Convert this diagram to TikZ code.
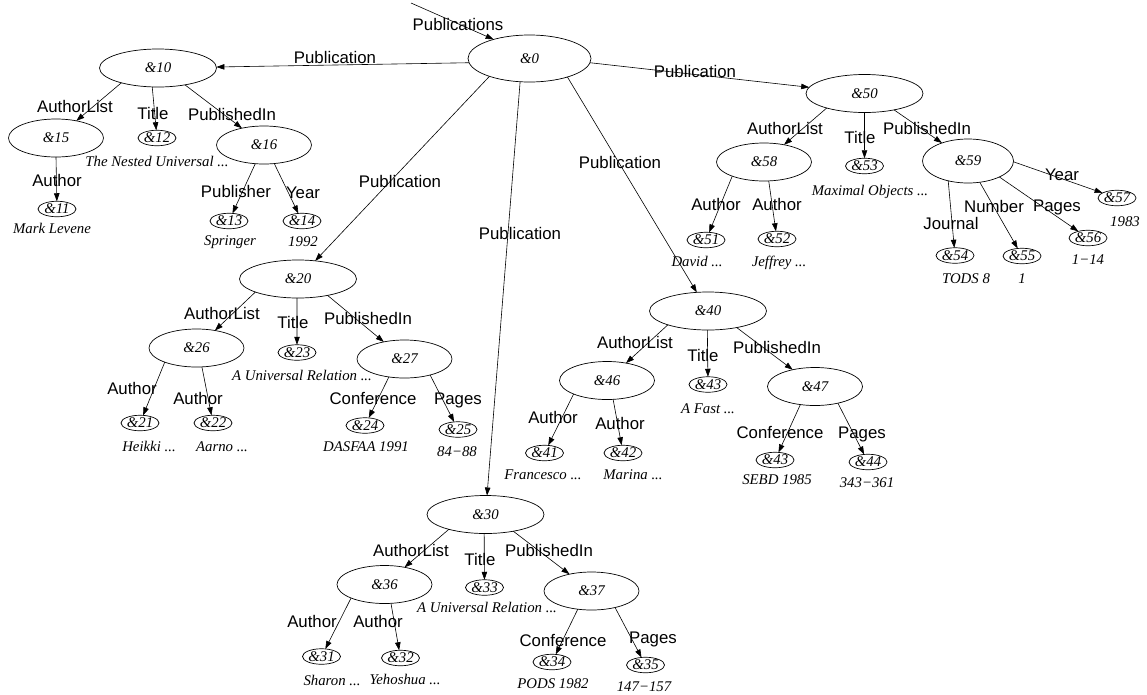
\documentclass[tikz,border=0pt]{standalone}
\usepackage{fontspec}
\setmainfont{Liberation Serif}
\newfontfamily\lsans{Liberation Sans}
\usetikzlibrary{shapes.geometric,arrows.meta}

\begin{document}
\begin{tikzpicture}[x=1pt,y=-1pt,
  obj/.style={ellipse,draw,line width=0.7pt,inner sep=0pt,outer sep=0pt,
    font=\itshape\fontsize{14.8}{16}\selectfont,text height=9.5pt,text depth=0pt},
  lvA/.style={obj,minimum width=117pt,minimum height=38pt},
  lvB/.style={obj,minimum width=95pt,minimum height=38pt},
  leaf/.style={obj,minimum width=38pt,minimum height=15.5pt},
  link/.style={line width=0.6pt,-{Triangle[length=8pt,width=5.5pt]}},
  elabel/.style={font=\lsans\fontsize{16.8}{18}\selectfont,inner sep=0pt,
    text height=12pt,text depth=0pt},
  capt/.style={font=\itshape\fontsize{14.8}{16}\selectfont,inner sep=0pt,
    text height=9.5pt,text depth=0pt}]
\useasboundingbox (0,0) rectangle (1147,694);

% ---------- objects ----------
\node[obj,minimum width=123pt,minimum height=47pt] (n0) at (529.5,58.5) {\&0};
\coordinate (pin) at (411,3);

% publication 10
\node[lvA]  (n10) at (158,68)   {\&10};
\node[lvB]  (n15) at (56,138)   {\&15};
\node[leaf] (n12) at (157,138)  {\&12};
\node[lvB]  (n16) at (264,145)  {\&16};
\node[leaf] (n11) at (57,209)   {\&11};
\node[leaf] (n13) at (229,221)  {\&13};
\node[leaf] (n14) at (302,221)  {\&14};

% publication 50
\node[lvA]  (n50) at (864.5,93.5) {\&50};
\node[lvB]  (n58) at (764,162)    {\&58};
\node[leaf] (n53) at (864.5,166)  {\&53};
\node[obj,minimum width=91pt,minimum height=44pt] (n59) at (968,161) {\&59};
\node[leaf] (n51) at (706,240)    {\&51};
\node[leaf] (n52) at (777,239)    {\&52};
\node[leaf] (n54) at (955,255.5)  {\&54};
\node[leaf] (n55) at (1022,256)   {\&55};
\node[leaf] (n56) at (1088,238)   {\&56};
\node[leaf] (n57) at (1117,198)   {\&57};

% publication 20
\node[lvA]  (n20) at (298,279)    {\&20};
\node[lvB]  (n26) at (196.5,348)  {\&26};
\node[leaf] (n23) at (297,352.5)  {\&23};
\node[lvB]  (n27) at (404.5,359)  {\&27};
\node[leaf] (n21) at (140,423)    {\&21};
\node[leaf] (n22) at (213,423)    {\&22};
\node[leaf] (n24) at (365,425.5)  {\&24};
\node[leaf] (n25) at (458,429.5)  {\&25};

% publication 40
\node[lvA]  (n40) at (708,311)    {\&40};
\node[lvB]  (n46) at (607,380.5)  {\&46};
\node[leaf] (n43) at (708,384.5)  {\&43};
\node[lvB]  (n47) at (815,386.5)  {\&47};
\node[leaf] (n41) at (544.5,453)  {\&41};
\node[leaf] (n42) at (623,453)    {\&42};
\node[leaf] (n43b) at (775,460)   {\&43};
\node[leaf] (n44) at (868,462)    {\&44};

% publication 30
\node[lvA]  (n30) at (485.5,514.5) {\&30};
\node[lvB]  (n36) at (384.5,584.5) {\&36};
\node[leaf] (n33) at (484.5,587.5) {\&33};
\node[lvB]  (n37) at (591.5,591)   {\&37};
\node[leaf] (n31) at (321.5,656.5) {\&31};
\node[leaf] (n32) at (400.5,658)   {\&32};
\node[leaf] (n34) at (552,662)     {\&34};
\node[leaf] (n35) at (645.5,665)   {\&35};

% ---------- values ----------
\node[capt] (v12) at (157,162) {The Nested Universal ...};
\node[capt] (v11) at (52,229)  {Mark Levene};
\node[capt] (v13) at (230,241) {Springer};
\node[capt] (v14) at (303,242) {1992};

\node[capt] (v53) at (870,191)  {Maximal Objects ...};
\node[capt] (v51) at (697,262)  {David ...};
\node[capt] (v52) at (779,262)  {Jeffrey ...};
\node[capt] (v54) at (966,279)  {TODS 8};
\node[capt] (v55) at (1022,279) {1};
\node[capt] (v56) at (1088,260) {1−14};
\node[capt] (v57) at (1125,222) {1983};

\node[capt] (v23) at (302,376) {A Universal Relation ...};
\node[capt] (v21) at (149,447) {Heikki ...};
\node[capt] (v22) at (222,447) {Aarno ...};
\node[capt] (v24) at (366,447) {DASFAA 1991};
\node[capt] (v25) at (457,452) {84−88};

\node[capt] (v43) at (708,409)  {A Fast ...};
\node[capt] (v41) at (543,475)  {Francesco ...};
\node[capt] (v42) at (633,475)  {Marina ...};
\node[capt] (v43b) at (777,480) {SEBD 1985};
\node[capt] (v44) at (867,483)  {343−361};

\node[capt] (v33) at (487,608) {A Universal Relation ...};
\node[capt] (v31) at (332,681) {Sharon ...};
\node[capt] (v32) at (405,680) {Yehoshua ...};
\node[capt] (v34) at (553,684) {PODS 1982};
\node[capt] (v35) at (644,687) {147−157};

% ---------- connectors ----------
\draw[link] (pin) -- (n0.152);
\draw[link] (n0.-176) -- (n10);
\draw[link] (n0.-4)   -- (n50);
\draw[link] (n0.-156) -- (n20);
\draw[link] (n0.-112) -- (n30);
\draw[link] (n0.-26)  -- (n40);

\draw[link] (n10.-158) -- (n15);
\draw[link] (n10.-107) -- (n12);
\draw[link] (n10.-32)  -- (n16);
\draw[link] (n15.-90)  -- (n11);
\draw[link] (n16.-115) -- (n13);
\draw[link] (n16.-61)  -- (n14);

\draw[link] (n50.-159) -- (n58);
\draw[link] (n50.-90)  -- (n53);
\draw[link] (n50.-29)  -- (n59);
\draw[link] (n58.-156) -- (n51);
\draw[link] (n58.-76)  -- (n52);
\draw[link] (n59.-135) -- (n54);
\draw[link] (n59.-61)  -- (n55);
\draw[link] (n59.-27)  -- (n56);
\draw[link] (n59.-1)   -- (n57);

\draw[link] (n20.-163) -- (n26);
\draw[link] (n20.-93)  -- (n23);
\draw[link] (n20.-29)  -- (n27);
\draw[link] (n26.-156) -- (n21);
\draw[link] (n26.-74)  -- (n22);
\draw[link] (n27.-131) -- (n24);
\draw[link] (n27.-32)  -- (n25);

\draw[link] (n40.-161) -- (n46);
\draw[link] (n40.-92)  -- (n43);
\draw[link] (n40.-30)  -- (n47);
\draw[link] (n46.-158) -- (n41);
\draw[link] (n46.-72)  -- (n42);
\draw[link] (n47.-129) -- (n43b);
\draw[link] (n47.-36)  -- (n44);

\draw[link] (n30.-158) -- (n36);
\draw[link] (n30.-94)  -- (n33);
\draw[link] (n30.-31)  -- (n37);
\draw[link] (n36.-158) -- (n31);
\draw[link] (n36.-71)  -- (n32);
\draw[link] (n37.-127) -- (n34);
\draw[link] (n37.-35)  -- (n35);

% ---------- connector labels ----------
\node[elabel] at (458,24)  {Publications};
\node[elabel] at (335,57)  {Publication};
\node[elabel] at (695,71)  {Publication};
\node[elabel] at (400,181) {Publication};
\node[elabel] at (520,233) {Publication};
\node[elabel] at (620,162) {Publication};

\node[elabel] at (75,106)  {AuthorList};
\node[elabel] at (153,113) {Title};
\node[elabel] at (232,114) {PublishedIn};
\node[elabel] at (57,180)  {Author};
\node[elabel] at (236,191) {Publisher};
\node[elabel] at (303,192) {Year};

\node[elabel] at (785,128)  {AuthorList};
\node[elabel] at (860,137)  {Title};
\node[elabel] at (927,128)  {PublishedIn};
\node[elabel] at (716,204)  {Author};
\node[elabel] at (777,204)  {Author};
\node[elabel] at (951,223)  {Journal};
\node[elabel] at (994,206)  {Number};
\node[elabel] at (1057,205) {Pages};
\node[elabel] at (1062,174) {Year};

\node[elabel] at (222,313) {AuthorList};
\node[elabel] at (293,322) {Title};
\node[elabel] at (368,318) {PublishedIn};
\node[elabel] at (132,388) {Author};
\node[elabel] at (198,398) {Author};
\node[elabel] at (373,398) {Conference};
\node[elabel] at (458,398) {Pages};

\node[elabel] at (635,342) {AuthorList};
\node[elabel] at (703,355) {Title};
\node[elabel] at (777,347) {PublishedIn};
\node[elabel] at (553,417) {Author};
\node[elabel] at (620,423) {Author};
\node[elabel] at (780,432) {Conference};
\node[elabel] at (862,432) {Pages};

\node[elabel] at (411,550) {AuthorList};
\node[elabel] at (480,559) {Title};
\node[elabel] at (549,550) {PublishedIn};
\node[elabel] at (312,621) {Author};
\node[elabel] at (378,621) {Author};
\node[elabel] at (563,640) {Conference};
\node[elabel] at (653,637) {Pages};
\end{tikzpicture}
\end{document}
